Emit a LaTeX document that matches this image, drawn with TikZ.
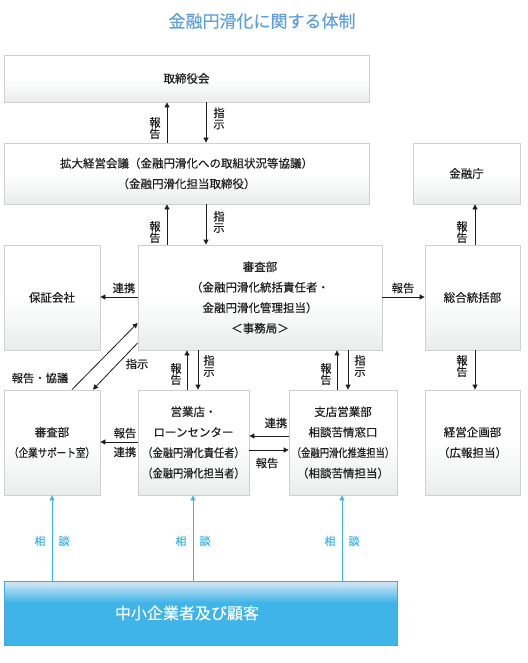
\documentclass[tikz,border=0pt]{standalone}
\usepackage{fontspec}
\usepackage{graphicx}
\setmainfont{Noto Sans CJK JP}[FakeBold=0.35]
\usetikzlibrary{arrows.meta}
\definecolor{titleblue}{HTML}{5FA0DA}
\definecolor{custblue}{HTML}{3EB4E8}
\definecolor{custlight}{HTML}{C6E4F6}
\definecolor{custline}{HTML}{4AA9DC}
\definecolor{boxline}{HTML}{D0D0D0}
\definecolor{boxbot}{HTML}{EAECEC}
\definecolor{ink}{HTML}{1E1E1E}
\pgfdeclareverticalshading{custshade}{100bp}{color(0bp)=(custblue); color(58bp)=(custblue); color(73bp)=(custlight); color(100bp)=(custlight)}
\newcommand{\narrow}[2]{\scalebox{#1}[1]{#2}}
\begin{document}
\begin{tikzpicture}[x=1pt,y=-1pt,
  box/.style={draw=boxline, line width=0.8pt, top color=white, bottom color=boxbot, middle color=white,
    text=ink, font=\fontsize{11.5}{20.5}\selectfont, align=center, inner sep=0pt},
  arr/.style={-{Triangle[length=5pt,width=5pt]}, line width=0.8pt, draw=ink},
  barr/.style={-{Triangle[length=5pt,width=5pt]}, line width=0.8pt, draw=custblue},
  lbl/.style={font=\fontsize{11.3}{11.3}\selectfont, text=ink, inner sep=0pt, align=center},
  blbl/.style={font=\fontsize{11}{11}\selectfont, text=custblue, inner sep=0pt}]
\useasboundingbox (0,0) rectangle (527,663);
\fill[white] (0,0) rectangle (527,663);

\node[font=\fontsize{17}{17}\selectfont, text=titleblue, inner sep=0pt] (title) at (262,21) {金融円滑化に関する体制};

% boxes
\node[box, minimum width=365pt, minimum height=47pt] (board) at (186.5,78.5) {取締役会};
\node[box, minimum width=365pt, minimum height=61pt] (meet) at (186.5,173.5)
  {拡大経営会議（金融円滑化への取組状況等協議）\\（金融円滑化担当取締役）};
\node[box, minimum width=107pt, minimum height=61pt] (fsa) at (466.5,173.5) {金融庁};
\node[box, minimum width=96pt, minimum height=105pt] (hosho) at (52,297.5) {保証会社};
\node[box, minimum width=244pt, minimum height=105pt] (shinsa) at (260,297.5)
  {審査部\\（金融円滑化統括責任者・\\金融円滑化管理担当）\\＜事務局＞};
\node[box, minimum width=95pt, minimum height=105pt] (sogo) at (472.5,297.5) {総合統括部};
\node[box, minimum width=96pt, minimum height=105pt] (kigyo) at (52,442.5)
  {審査部\\\narrow{0.83}{（企業サポート室）}};
\node[box, minimum width=111pt, minimum height=105pt] (eigyo) at (193.5,442.5)
  {営業店・\\ローンセンター\\\narrow{0.89}{（金融円滑化責任者）}\\\narrow{0.89}{（金融円滑化担当者）}};
\node[box, minimum width=108pt, minimum height=105pt] (shiten) at (343,442.5)
  {支店営業部\\相談苦情窓口\\\narrow{0.81}{（金融円滑化推進担当）}\\（相談苦情担当）};
\node[box, minimum width=95pt, minimum height=105pt] (keiei) at (472.5,442.5) {経営企画部\\（広報担当）};
\node[draw=custline, line width=0.8pt, shading=custshade, minimum width=393pt, minimum height=64pt,
  inner sep=0pt] (cust) at (200.5,613) {};
\node[font=\fontsize{16}{16}\selectfont, text=white, inner sep=0pt] (custtext) at (187,613) {中小企業者及び顧客};

% column / row reference coordinates
\coordinate (c52) at (52,0);
\coordinate (c167) at (167,0);
\coordinate (c206) at (206,0);
\coordinate (c475) at (475,0);
\coordinate (c187) at (187,0);
\coordinate (c198) at (198,0);
\coordinate (c337) at (337,0);
\coordinate (c348) at (348,0);
\coordinate (c193) at (193,0);
\coordinate (c342) at (342,0);
\coordinate (c72) at (72,0);
\coordinate (c93) at (93,0);
\coordinate (r297) at (0,297);
\coordinate (r323) at (0,323);
\coordinate (r343) at (0,343);
\coordinate (r436) at (0,436);
\coordinate (r442) at (0,442);
\coordinate (r450) at (0,450);

% board <-> meet
\draw[arr] (meet.north -| c167) -- (board.south -| c167);
\draw[arr] (board.south -| c206) -- (meet.north -| c206);
\node[lbl] at (155,128) {報\\告};
\node[lbl] at (219,118.5) {指\\示};

% meet <-> shinsa
\draw[arr] (shinsa.north -| c167) -- (meet.south -| c167);
\draw[arr] (meet.south -| c206) -- (shinsa.north -| c206);
\node[lbl] at (155,232) {報\\告};
\node[lbl] at (219,222) {指\\示};

% sogo -> fsa
\draw[arr] (sogo.north -| c475) -- (fsa.south -| c475);
\node[lbl] at (462,232) {報\\告};

% shinsa -> hosho, shinsa -> sogo
\draw[arr] (shinsa.west |- r297) -- (hosho.east |- r297);
\node[lbl] at (124,288) {連携};
\draw[arr] (shinsa.east |- r297) -- (sogo.west |- r297);
\node[lbl] at (403,288) {報告};

% eigyo <-> shinsa
\draw[arr] (eigyo.north -| c187) -- (shinsa.south -| c187);
\draw[arr] (shinsa.south -| c198) -- (eigyo.north -| c198);
\node[lbl] at (176,374) {報\\告};
\node[lbl] at (209,366) {指\\示};

% shiten <-> shinsa
\draw[arr] (shiten.north -| c337) -- (shinsa.south -| c337);
\draw[arr] (shinsa.south -| c348) -- (shiten.north -| c348);
\node[lbl] at (326,374) {報\\告};
\node[lbl] at (360,366) {指\\示};

% sogo -> keiei
\draw[arr] (sogo.south -| c475) -- (keiei.north -| c475);
\node[lbl] at (462,366) {報\\告};

% diagonals kigyo <-> shinsa
\draw[arr] (kigyo.north -| c72) -- (shinsa.west |- r323);
\draw[arr] (shinsa.west |- r343) -- (kigyo.north -| c93);
\node[lbl] at (40,378) {報告・協議};
\node[lbl] at (137,364) {指示};

% eigyo -> kigyo
\draw[arr] (eigyo.west |- r442) -- (kigyo.east |- r442);
\node[lbl] at (125,433) {報告};
\node[lbl] at (125,452) {連携};

% shiten <-> eigyo
\draw[arr] (shiten.west |- r436) -- (eigyo.east |- r436);
\node[lbl] at (276,423) {連携};
\draw[arr] (eigyo.east |- r450) -- (shiten.west |- r450);
\node[lbl] at (267,463) {報告};

% customers -> boxes
\draw[barr] (cust.north -| c52) -- (kigyo.south -| c52);
\draw[barr] (cust.north -| c193) -- (eigyo.south -| c193);
\draw[barr] (cust.north -| c342) -- (shiten.south -| c342);
\node[blbl] at (40,541) {相};
\node[blbl] at (64,541) {談};
\node[blbl] at (181,541) {相};
\node[blbl] at (205,541) {談};
\node[blbl] at (330,541) {相};
\node[blbl] at (354,541) {談};
\end{tikzpicture}
\end{document}
